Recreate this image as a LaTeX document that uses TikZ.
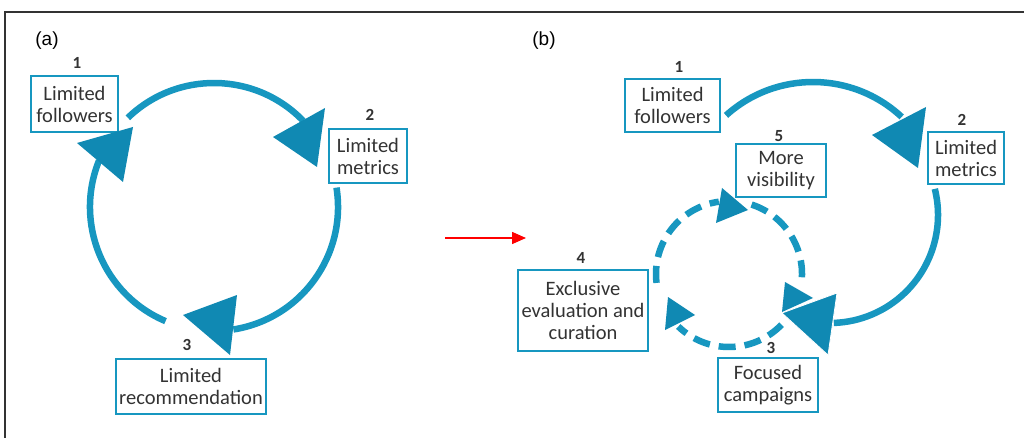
\documentclass[tikz,border=0pt]{standalone}
\usepackage{fontspec}
\setmainfont{Carlito}
\newfontfamily\arialf{Liberation Sans}
\usetikzlibrary{arrows.meta}
\definecolor{cyc}{HTML}{1797C0}
\definecolor{cycdark}{HTML}{1089B3}
\definecolor{txt}{HTML}{333333}
\tikzset{
  stagebox/.style={draw=cyc, line width=2pt, inner sep=0pt, align=center, text=txt,
    font=\fontsize{20.5}{22}\selectfont},
  numlabel/.style={inner sep=0pt, text=txt, font=\fontsize{17}{19}\selectfont\bfseries},
  panellabel/.style={inner sep=0pt, text=black, font=\arialf\fontsize{19}{21}\selectfont},
  arcline/.style={draw=cyc, line width=6.5pt},
  dashline/.style={draw=cyc, line width=6.5pt, dash pattern=on 17pt off 9pt},
  headtri/.style={fill=cycdark},
  headtrisep/.style={fill=cycdark, draw=white, line width=0.8pt},
}
\begin{document}
\begin{tikzpicture}[x=1pt,y=-1pt]
\useasboundingbox (0,0) rectangle (1024,438);
\clip (0,0) rectangle (1024,438);
\fill[white] (0,0) rectangle (1024,438);
\draw[line width=1.5pt, black!80] (5,12) rectangle (1040,460);

% panel labels
\node[panellabel] (pa) at (47,41) {(a)};
\node[panellabel] (pb) at (544,41) {(b)};

% ---------------- panel (a) ----------------
\node[stagebox, minimum width=87pt, minimum height=56pt] (a1) at (74.5,104) {Limited\\followers};
\node[numlabel] (n1) at (77,63) {1};
\node[stagebox, minimum width=78pt, minimum height=54pt] (a2) at (368,156) {Limited\\metrics};
\node[numlabel] (n2) at (370,115) {2};
\node[stagebox, minimum width=150pt, minimum height=55pt] (a3) at (191,386.5) {Limited\\recommendation};
\node[numlabel] (n3) at (187,345) {3};

\coordinate (ca) at (214,207);
\draw[arcline] (ca) ++(-134:124) arc[start angle=-134, end angle=-44, radius=124];
\draw[arcline] (ca) ++(-9:124) arc[start angle=-9, end angle=81, radius=124];
\draw[arcline] (ca) ++(113:124) arc[start angle=113, end angle=202, radius=124];
\fill[headtri] (77,143) -- (133,127) -- (123,182) -- cycle;
\fill[headtri] (273,137) -- (325,108) -- (317,167) -- cycle;
\fill[headtri] (183,315) -- (237,295) -- (230,355) -- cycle;

% red arrow
\coordinate (ra) at (445,238);
\coordinate (rb) at (526,238);
\draw[red, line width=1.5pt, -{Triangle[length=14pt,width=12pt]}] (ra) -- (rb);

% ---------------- panel (b) ----------------
\node[stagebox, minimum width=95pt, minimum height=53pt] (b1) at (672.5,105.5) {Limited\\followers};
\node[numlabel] (m1) at (679,67) {1};
\node[stagebox, minimum width=76pt, minimum height=52pt] (b2) at (966,158) {Limited\\metrics};
\node[numlabel] (m2) at (962,120) {2};
\node[stagebox, minimum width=90pt, minimum height=53pt] (b5) at (781,170.5) {More\\visibility};
\node[numlabel] (m5) at (779,136) {5};
\node[stagebox, minimum width=130pt, minimum height=81pt] (b4) at (583,310.5) {Exclusive\\evaluation and\\curation};
\node[numlabel] (m4) at (581,258) {4};
\node[stagebox, minimum width=100pt, minimum height=54pt] (b3) at (768,385) {Focused\\campaigns};
\node[numlabel] (m3) at (771,348) {3};

% solid outer loop
\coordinate (cb) at (813,212);
\coordinate (cc) at (830,215);
\draw[arcline] (cb) ++(-132:130) arc[start angle=-132, end angle=-47, radius=130];
\draw[arcline] (cc) ++(-14:108) arc[start angle=-14, end angle=88, radius=108];

% dashed inner loop
\coordinate (cd) at (729,274);
\draw[dashline] (cd) ++(173:73) arc[start angle=173, end angle=262, radius=73];
\draw[dashline] (cd) ++(-72:73) arc[start angle=-72, end angle=8, radius=73];
\draw[dashline] (cd) ++(44:73) arc[start angle=44, end angle=134, radius=73];
\fill[headtri] (722,188) -- (748,210) -- (716,223) -- cycle;
\fill[headtri] (668,297) -- (695,315) -- (665,330) -- cycle;
\fill[headtri] (785,282) -- (813,298) -- (782,312) -- cycle;

% solid heads
\fill[headtri] (872,135) -- (926,107) -- (918,168) -- cycle;
\filldraw[headtrisep] (782,313) -- (837,293) -- (828,355) -- cycle;
\end{tikzpicture}
\end{document}
